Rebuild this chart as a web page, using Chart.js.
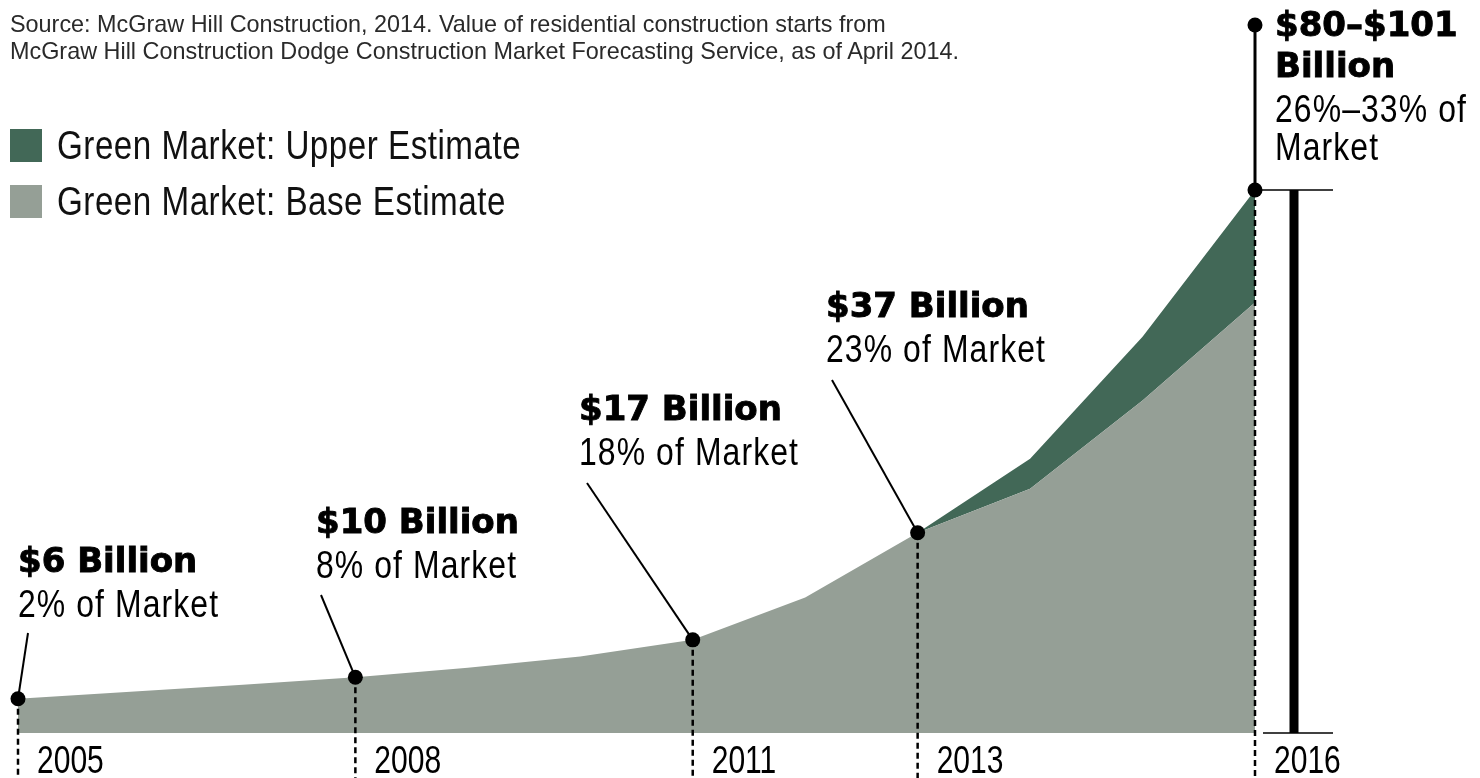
<!DOCTYPE html>
<html>
<head>
<meta charset="utf-8">
<script src="https://cdn.jsdelivr.net/npm/chart.js@4/dist/chart.umd.min.js"></script>
<style>
  html, body { margin: 0; padding: 0; background: #fff; }
  #wrap { position: relative; width: 1480px; height: 778px; overflow: hidden; }
  #chart { position: absolute; left: 0; top: 0; }
  .source { position: absolute; left: 10px; top: 11px; font: 23.4px/27px "Liberation Sans", Arial, sans-serif; color: #2a2a2a; }
  .legend { position: absolute; left: 10px; top: 117px; font: 40px/40px "Liberation Sans", Arial, sans-serif; letter-spacing: 0.6px; color: #111; }
  .legend div { display: flex; align-items: center; height: 56px; white-space: nowrap; }
  .legend span.box { display: inline-block; width: 32px; height: 33px; margin-right: 15px; flex: none; }
  .legend span.lbl { display: inline-block; transform: scaleX(0.83); transform-origin: left center; }
</style>
</head>
<body>
<div id="wrap">
  <canvas id="chart" width="1480" height="778"></canvas>
  <div class="source">Source: McGraw Hill Construction, 2014. Value of residential construction starts from<br>McGraw Hill Construction Dodge Construction Market Forecasting Service, as of April 2014.</div>
  <div class="legend">
    <div><span class="box" style="background:#426857"></span><span class="lbl">Green Market: Upper Estimate</span></div>
    <div><span class="box" style="background:#959f96"></span><span class="lbl">Green Market: Base Estimate</span></div>
  </div>
</div>
<script>
// ===== Green residential market, $ billions =====
const years = ['2005', '2006', '2007', '2008', '2009', '2010', '2011', '2012', '2013', '2014', '2015', '2016'];
const baseEstimate = [6, 7.3, 8.6, 10, 11.8, 13.9, 17, 24.9, 37, 45.2, 61.7, 80];
const upperEstimate = [null, null, null, null, null, null, null, null, 37, 50.8, 73.6, 101];

// callouts: year, value the dot sits on, bold title lines, note lines
const calloutYears = ['2005', '2008', '2011', '2013', '2016'];
const calloutValues = [6, 10, 17, 37, 101];
const calloutTitles = [['$6 Billion'], ['$10 Billion'], ['$17 Billion'], ['$37 Billion'], ['$80–$101', 'Billion']];
const calloutNotes = [['2% of Market'], ['8% of Market'], ['18% of Market'], ['23% of Market'], ['26%–33% of', 'Market']];

const COLORS = { upper: '#426857', base: '#959f96', ink: '#000' };

// where each callout's text sits and where its leader line ends
const calloutLayout = [
  { tx: 18,   ty: 572, lx: 28,  ly: 633 },
  { tx: 316,  ty: 533, lx: 321, ly: 595 },
  { tx: 579,  ty: 420, lx: 587, ly: 483 },
  { tx: 826,  ty: 317, lx: 832, ly: 380 },
  { tx: 1275, ty: 36,  topY: 25 }
];

// no condensed face installed, so regular text gets squeezed horizontally
const BOLD = { font: 'bold 34px "DejaVu Sans", sans-serif', sx: 1, stroke: 0.9 };
const NOTE = { font: '38px "Liberation Sans", sans-serif', sx: 0.84, spacing: '1.3px' };
const YEAR = { font: '38px "Liberation Sans", sans-serif', sx: 0.79 };

function line(ctx, x1, y1, x2, y2, w, dash) {
  ctx.save();
  ctx.beginPath();
  ctx.lineWidth = w;
  ctx.strokeStyle = COLORS.ink;
  ctx.setLineDash(dash || []);
  ctx.moveTo(x1, y1);
  ctx.lineTo(x2, y2);
  ctx.stroke();
  ctx.restore();
}

function dot(ctx, x, y) {
  ctx.beginPath();
  ctx.fillStyle = COLORS.ink;
  ctx.arc(x, y, 7.5, 0, Math.PI * 2);
  ctx.fill();
}

function text(ctx, str, x, y, style) {
  ctx.save();
  ctx.font = style.font;
  ctx.letterSpacing = style.spacing || '0px';
  ctx.fillStyle = COLORS.ink;
  ctx.textBaseline = 'alphabetic';
  ctx.translate(x, y);
  ctx.scale(style.sx, 1);
  ctx.fillText(str, 0, 0);
  if (style.stroke) {
    ctx.lineWidth = style.stroke;
    ctx.strokeStyle = COLORS.ink;
    ctx.strokeText(str, 0, 0);
  }
  ctx.restore();
}

const calloutPlugin = {
  id: 'callouts',
  afterDatasetsDraw(chart) {
    const { ctx, scales: { x, y }, chartArea } = chart;
    const bottom = chart.height;

    calloutYears.forEach((yr, i) => {
      const px = x.getPixelForValue(years.indexOf(yr));
      const py = y.getPixelForValue(calloutValues[i]);
      const lay = calloutLayout[i];

      // dashed drop line and the year under it
      line(ctx, px, py, px, bottom, 2.5, [6, 4]);
      text(ctx, yr, px + 19, 773, YEAR);

      if (lay.topY !== undefined) {
        // range marker for the last year
        line(ctx, px, lay.topY, px, py, 3);
        dot(ctx, px, lay.topY);
        line(ctx, px, chartArea.top, px + 78, chartArea.top, 1.5);
        line(ctx, px + 8, chartArea.bottom, px + 78, chartArea.bottom, 1.5);
        line(ctx, px + 39, chartArea.top, px + 39, chartArea.bottom, 9);
      } else {
        line(ctx, px, py, lay.lx, lay.ly, 2);
      }
      dot(ctx, px, py);

      let ty = lay.ty;
      calloutTitles[i].forEach(t => { text(ctx, t, lay.tx, ty, BOLD); ty += 41; });
      ty += 4;
      calloutNotes[i].forEach(t => { text(ctx, t, lay.tx, ty, NOTE); ty += 38; });
    });
  }
};

new Chart(document.getElementById('chart'), {
  type: 'line',
  data: {
    labels: years,
    datasets: [
      { label: 'Green Market: Base Estimate', data: baseEstimate, backgroundColor: COLORS.base, borderWidth: 0, pointRadius: 0, fill: 'start', tension: 0 },
      { label: 'Green Market: Upper Estimate', data: upperEstimate, backgroundColor: COLORS.upper, borderWidth: 0, pointRadius: 0, fill: '-1', tension: 0 }
    ]
  },
  options: {
    responsive: false,
    animation: false,
    layout: { padding: { left: 18, right: 225, top: 190, bottom: 45 } },
    plugins: { legend: { display: false }, tooltip: { enabled: false } },
    scales: {
      x: { type: 'category', display: false, offset: false },
      y: { display: false, min: -0.4, max: 101 }
    }
  },
  plugins: [calloutPlugin]
});
</script>
</body>
</html>
